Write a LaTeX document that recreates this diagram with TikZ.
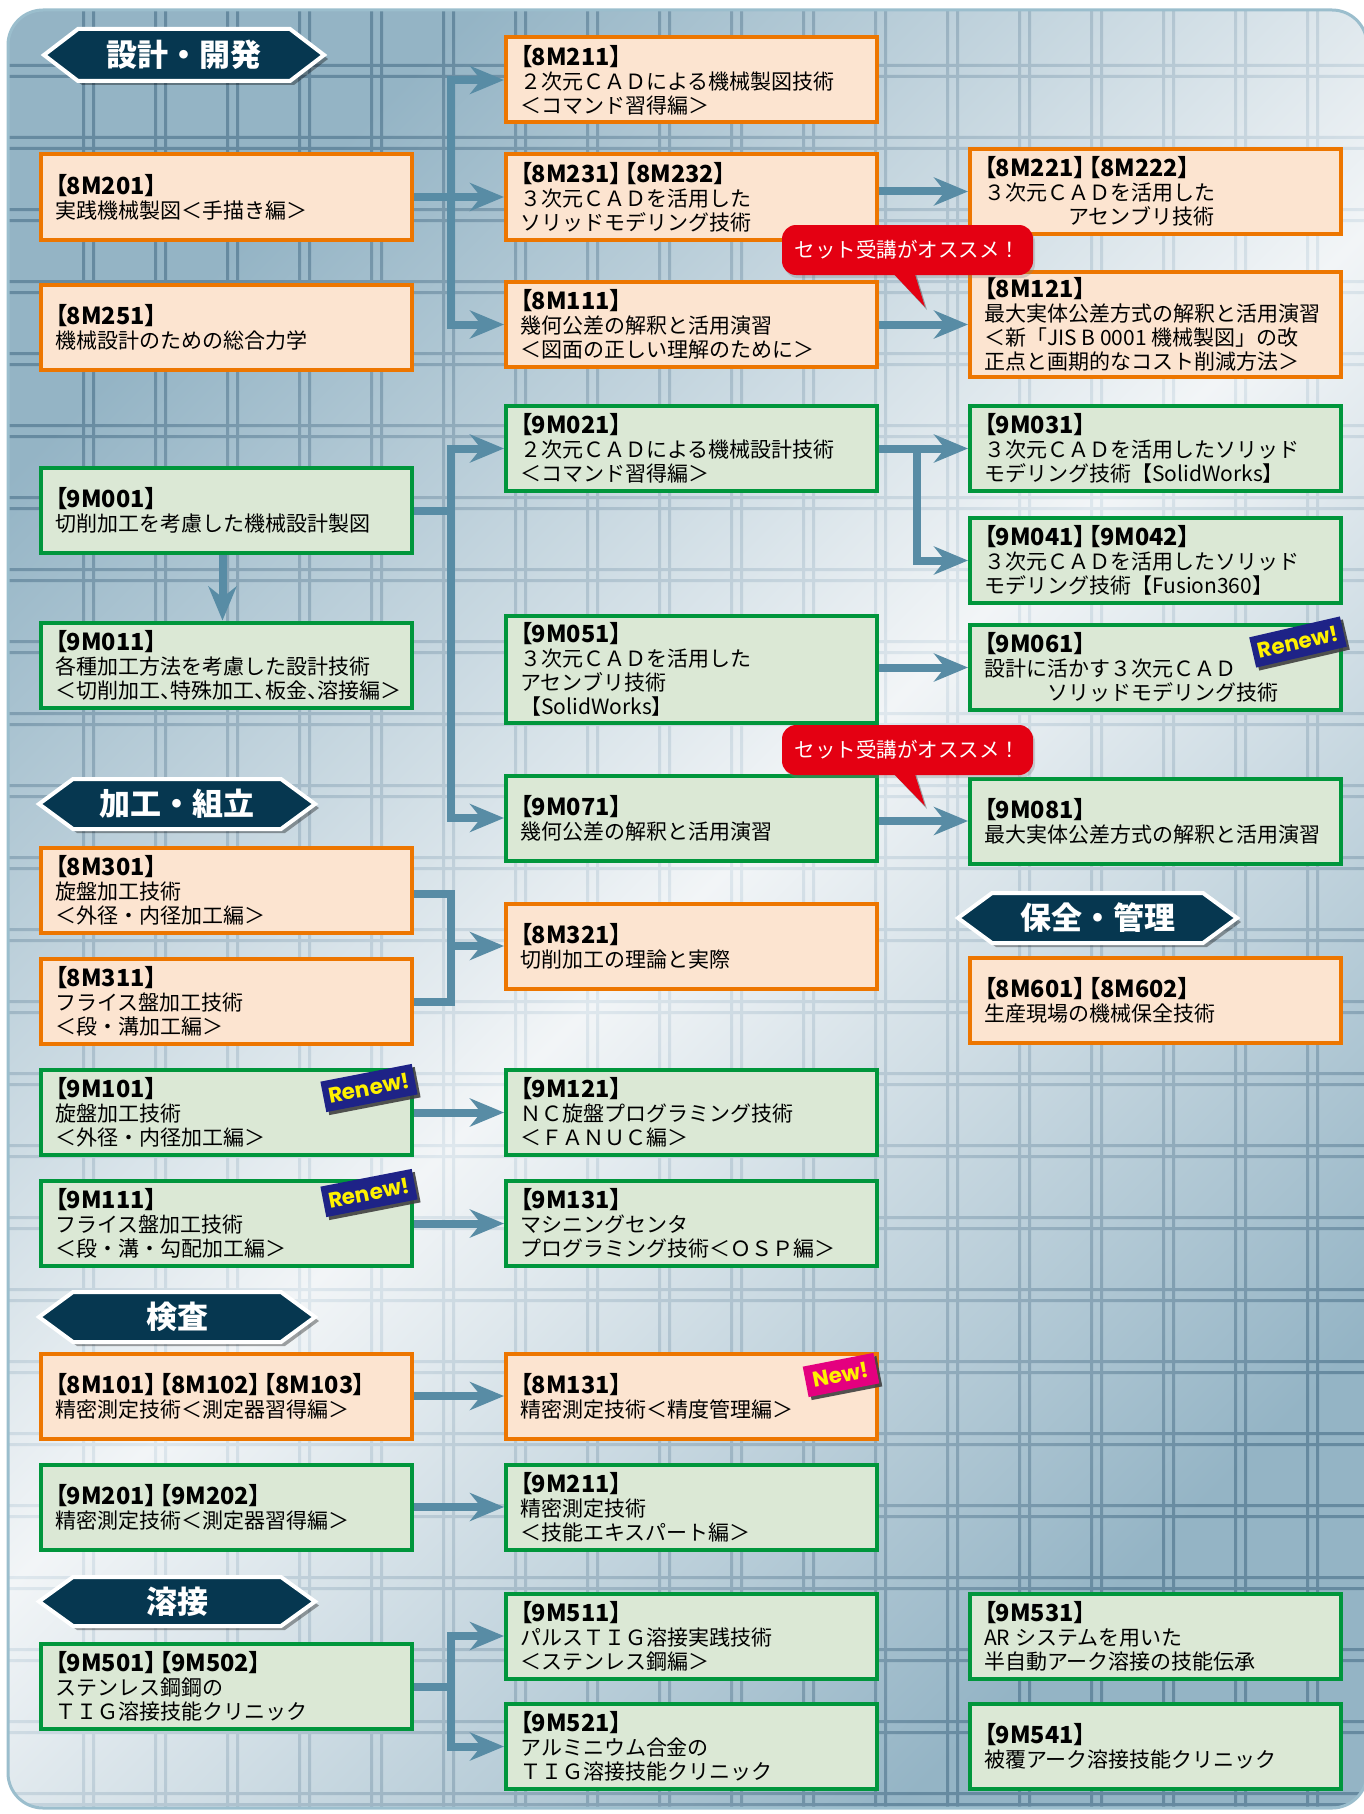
\documentclass[tikz,border=0pt]{standalone}
\usepackage{fontspec}
\newfontfamily\jp{Noto Sans CJK JP}
\newfontfamily\jpp[RawFeature=+palt]{Noto Sans CJK JP}
\newfontfamily\badgefont{Poppins}
\usetikzlibrary{arrows.meta,shadows,calc}
\pgfdeclarelayer{bg}
\pgfdeclarelayer{cn}
\pgfsetlayers{bg,cn,main}
\definecolor{obFill}{RGB}{252,228,208}
\definecolor{obDraw}{RGB}{237,118,0}
\definecolor{gbFill}{RGB}{219,232,213}
\definecolor{gbDraw}{RGB}{0,150,60}
\definecolor{connC}{RGB}{88,140,165}
\definecolor{navyH}{RGB}{6,55,80}
\definecolor{bubR}{RGB}{228,0,18}
\definecolor{badgeB}{RGB}{30,35,135}
\definecolor{badgeM}{RGB}{228,0,127}
\definecolor{badgeY}{RGB}{255,241,0}
\definecolor{bgDark}{RGB}{148,180,197}
\definecolor{bgLight}{RGB}{242,245,247}
\definecolor{grDark}{RGB}{102,138,160}
\definecolor{grLight}{RGB}{222,231,237}
\definecolor{panelEdge}{RGB}{155,190,205}
\newcommand\cde[1]{{\jpp\bfseries\fontsize{23.5}{24}\selectfont #1}}
\newcommand\hexbanner[6]{%
  \fill[black,opacity=0.35] ({#2+4},{-(#4+#5)/2-4}) -- ({#2+38},{-#4-4}) -- ({#3-30},{-#4-4}) -- ({#3+4},{-(#4+#5)/2-4}) -- ({#3-30},{-#5-4}) -- ({#2+38},{-#5-4}) -- cycle;
  \filldraw[fill=navyH, draw=white, line width=4pt, line join=miter] ({#2},{-(#4+#5)/2}) -- ({#2+34},{-#4}) -- ({#3-34},{-#4}) -- ({#3},{-(#4+#5)/2}) -- ({#3-34},{-#5}) -- ({#2+34},{-#5}) -- cycle;
  \node[hdrtxt] (#1) at ({(#2+#3)/2},{-(#4+#5)/2}) {#6};
}
\begin{document}
\begin{tikzpicture}[x=1pt,y=1pt,
  obox/.style={draw=obDraw, fill=obFill, line width=4pt, minimum width=371pt, minimum height=85pt, inner sep=0pt},
  gbox/.style={draw=gbDraw, fill=gbFill, line width=4pt, minimum width=371pt, minimum height=85pt, inner sep=0pt},
  btxt/.style={anchor=west, align=left, inner sep=0pt, font=\jp\fontsize{21}{24}\selectfont, text=black},
  ln/.style={draw=connC, line width=8pt, line cap=rect},
  arr/.style={draw=connC, line width=8pt, -{Stealth[length=34pt,width=28pt,inset=11pt]}},
  hdrtxt/.style={text=white, font=\jp\bfseries\fontsize{31}{31}\selectfont, inner sep=0pt},
  bubble/.style={fill=bubR, text=white, rounded corners=14pt, minimum width=251pt, minimum height=50pt, inner sep=0pt, font=\jp\fontsize{20.5}{22}\selectfont, drop shadow={shadow xshift=2pt, shadow yshift=-3pt, opacity=0.3}},
  badge/.style={fill=badgeB, text=badgeY, font=\badgefont\bfseries\fontsize{21.5}{22}\selectfont, minimum width=93pt, minimum height=31pt, inner sep=0pt, drop shadow={shadow xshift=3pt, shadow yshift=-3pt, fill=black!75, opacity=0.9}},
]
\useasboundingbox (0,0) rectangle (1364,-1814);

% ---------- background panel ----------
\begin{pgfonlayer}{bg}
\shade[top color=bgDark, bottom color=bgDark, middle color=bgLight, shading angle=45, rounded corners=35pt] (8,-10) rectangle (1367,-1808);
\begin{scope}
\clip[rounded corners=35pt] (8,-10) rectangle (1367,-1808);
\shade[top color=grDark, bottom color=grDark, middle color=grLight, shading angle=45]
  (8,-10) rectangle (1367,-10.5)
  (8,-1807.5) rectangle (1367,-1808)
  \foreach \k in {0,...,17} { ({82+72*\k},-10) rectangle ({85+72*\k},-1808) ({92+72*\k},-10) rectangle ({95+72*\k},-1808) }
  \foreach \k in {0,...,24} { (8,{-64-72*\k}) rectangle (1367,{-67-72*\k}) (8,{-75-72*\k}) rectangle (1367,{-78-72*\k}) };
\end{scope}
\draw[panelEdge, line width=3pt, rounded corners=35pt] (8,-10) rectangle (1367,-1808);
\end{pgfonlayer}

% ---------- banners ----------
\hexbanner{hA}{44}{324}{29}{81}{設計・開発}
\hexbanner{hB}{39}{315}{779}{829}{加工・組立}
\hexbanner{hC}{39}{315}{1292}{1342}{検査}
\hexbanner{hD}{39}{315}{1577}{1626}{溶接}
\hexbanner{hE}{958}{1237}{893}{943}{保全・管理}

% ---------- boxes ----------
% column 1
\node[obox] (b8m201) at (226.5,-197) {};
\node[btxt] (t8m201) at ([xshift=16pt]b8m201.west) {\cde{【8M201】}\\実践機械製図＜手描き編＞};
\node[obox] (b8m251) at (226.5,-327) {};
\node[btxt] (t8m251) at ([xshift=16pt]b8m251.west) {\cde{【8M251】}\\機械設計のための総合力学};
\node[gbox] (b9m001) at (226.5,-510.5) {};
\node[btxt] (t9m001) at ([xshift=16pt]b9m001.west) {\cde{【9M001】}\\切削加工を考慮した機械設計製図};
\node[gbox] (b9m011) at (226.5,-665) {};
\node[btxt] (t9m011) at ([xshift=16pt]b9m011.west) {\cde{【9M011】}\\各種加工方法を考慮した設計技術\\{\jpp ＜切削加工、特殊加工、板金、溶接編＞}};
\node[obox] (b8m301) at (226.5,-890) {};
\node[btxt] (t8m301) at ([xshift=16pt]b8m301.west) {\cde{【8M301】}\\旋盤加工技術\\＜外径・内径加工編＞};
\node[obox] (b8m311) at (226.5,-1001.5) {};
\node[btxt] (t8m311) at ([xshift=16pt]b8m311.west) {\cde{【8M311】}\\フライス盤加工技術\\＜段・溝加工編＞};
\node[gbox] (b9m101) at (226.5,-1112.5) {};
\node[btxt] (t9m101) at ([xshift=16pt]b9m101.west) {\cde{【9M101】}\\旋盤加工技術\\＜外径・内径加工編＞};
\node[gbox] (b9m111) at (226.5,-1223.5) {};
\node[btxt] (t9m111) at ([xshift=16pt]b9m111.west) {\cde{【9M111】}\\フライス盤加工技術\\＜段・溝・勾配加工編＞};
\node[obox] (b8m101) at (226.5,-1396) {};
\node[btxt] (t8m101) at ([xshift=16pt]b8m101.west) {\cde{【8M101】\hspace{3pt}【8M102】\hspace{3pt}【8M103】}\\精密測定技術＜測定器習得編＞};
\node[gbox] (b9m201) at (226.5,-1507) {};
\node[btxt] (t9m201) at ([xshift=16pt]b9m201.west) {\cde{【9M201】\hspace{3pt}【9M202】}\\精密測定技術＜測定器習得編＞};
\node[gbox] (b9m501) at (226.5,-1686.5) {};
\node[btxt] (t9m501) at ([xshift=16pt]b9m501.west) {\cde{【9M501】\hspace{3pt}【9M502】}\\ステンレス鋼鋼の\\ＴＩＧ溶接技能クリニック};

% column 2
\node[obox] (b8m211) at (691.5,-80) {};
\node[btxt] (t8m211) at ([xshift=16pt]b8m211.west) {\cde{【8M211】}\\２次元ＣＡＤによる機械製図技術\\＜コマンド習得編＞};
\node[obox] (b8m231) at (691.5,-197) {};
\node[btxt] (t8m231) at ([xshift=16pt]b8m231.west) {\cde{【8M231】\hspace{3pt}【8M232】}\\３次元ＣＡＤを活用した\\ソリッドモデリング技術};
\node[obox] (b8m111) at (691.5,-324.5) {};
\node[btxt] (t8m111) at ([xshift=16pt]b8m111.west) {\cde{【8M111】}\\幾何公差の解釈と活用演習\\＜図面の正しい理解のために＞};
\node[gbox] (b9m021) at (691.5,-448.5) {};
\node[btxt] (t9m021) at ([xshift=16pt]b9m021.west) {\cde{【9M021】}\\２次元ＣＡＤによる機械設計技術\\＜コマンド習得編＞};
\node[gbox, minimum height=107pt] (b9m051) at (691.5,-669.5) {};
\node[btxt] (t9m051) at ([xshift=16pt]b9m051.west) {\cde{【9M051】}\\３次元ＣＡＤを活用した\\アセンブリ技術\\【SolidWorks】};
\node[gbox] (b9m071) at (691.5,-818) {};
\node[btxt] (t9m071) at ([xshift=16pt]b9m071.west) {\cde{【9M071】}\\幾何公差の解釈と活用演習};
\node[obox] (b8m321) at (691.5,-946) {};
\node[btxt] (t8m321) at ([xshift=16pt]b8m321.west) {\cde{【8M321】}\\切削加工の理論と実際};
\node[gbox] (b9m121) at (691.5,-1112.5) {};
\node[btxt] (t9m121) at ([xshift=16pt]b9m121.west) {\cde{【9M121】}\\ＮＣ旋盤プログラミング技術\\＜ＦＡＮＵＣ編＞};
\node[gbox] (b9m131) at (691.5,-1223.5) {};
\node[btxt] (t9m131) at ([xshift=16pt]b9m131.west) {\cde{【9M131】}\\マシニングセンタ\\プログラミング技術＜ＯＳＰ編＞};
\node[obox] (b8m131) at (691.5,-1396) {};
\node[btxt] (t8m131) at ([xshift=16pt]b8m131.west) {\cde{【8M131】}\\精密測定技術＜精度管理編＞};
\node[gbox] (b9m211) at (691.5,-1507) {};
\node[btxt] (t9m211) at ([xshift=16pt]b9m211.west) {\cde{【9M211】}\\精密測定技術\\＜技能エキスパート編＞};
\node[gbox] (b9m511) at (691.5,-1636) {};
\node[btxt] (t9m511) at ([xshift=16pt]b9m511.west) {\cde{【9M511】}\\パルスＴＩＧ溶接実践技術\\＜ステンレス鋼編＞};
\node[gbox] (b9m521) at (691.5,-1746.5) {};
\node[btxt] (t9m521) at ([xshift=16pt]b9m521.west) {\cde{【9M521】}\\アルミニウム合金の\\ＴＩＧ溶接技能クリニック};

% column 3
\node[obox] (b8m221) at (1155.5,-191.5) {};
\node[btxt] (t8m221) at ([xshift=16pt]b8m221.west) {\cde{【8M221】\hspace{3pt}【8M222】}\\３次元ＣＡＤを活用した\\\hspace*{84pt}アセンブリ技術};
\node[obox, minimum height=105pt] (b8m121) at (1155.5,-324.5) {};
\node[btxt] (t8m121) at ([xshift=16pt]b8m121.west) {\cde{【8M121】}\\最大実体公差方式の解釈と活用演習\\＜新「JIS B 0001 機械製図」の改\\正点と画期的なコスト削減方法＞};
\node[gbox] (b9m031) at (1155.5,-448.5) {};
\node[btxt] (t9m031) at ([xshift=16pt]b9m031.west) {\cde{【9M031】}\\３次元ＣＡＤを活用したソリッド\\モデリング技術【SolidWorks】};
\node[gbox] (b9m041) at (1155.5,-560.5) {};
\node[btxt] (t9m041) at ([xshift=16pt]b9m041.west) {\cde{【9M041】\hspace{3pt}【9M042】}\\３次元ＣＡＤを活用したソリッド\\モデリング技術【Fusion360】};
\node[gbox] (b9m061) at (1155.5,-667.5) {};
\node[btxt] (t9m061) at ([xshift=16pt]b9m061.west) {\cde{【9M061】}\\設計に活かす３次元ＣＡＤ\\\hspace*{63pt}ソリッドモデリング技術};
\node[gbox] (b9m081) at (1155.5,-821) {};
\node[btxt] (t9m081) at ([xshift=16pt]b9m081.west) {\cde{【9M081】}\\最大実体公差方式の解釈と活用演習};
\node[obox] (b8m601) at (1155.5,-1000) {};
\node[btxt] (t8m601) at ([xshift=16pt]b8m601.west) {\cde{【8M601】\hspace{3pt}【8M602】}\\生産現場の機械保全技術};
\node[gbox] (b9m531) at (1155.5,-1636) {};
\node[btxt] (t9m531) at ([xshift=16pt]b9m531.west) {\cde{【9M531】}\\AR システムを用いた\\半自動アーク溶接の技能伝承};
\node[gbox] (b9m541) at (1155.5,-1746.5) {};
\node[btxt] (t9m541) at ([xshift=16pt]b9m541.west) {\cde{【9M541】}\\被覆アーク溶接技能クリニック};

% ---------- connectors ----------
\coordinate (tr1) at (451,0);
\coordinate (tr2) at (917,0);
\begin{pgfonlayer}{cn}
% design group 1
\draw[ln] (b8m211.west -| tr1) -- (b8m111.west -| tr1);
\draw[arr] (b8m201.east) -- (b8m231.west);
\draw[arr] (b8m211.west -| tr1) -- (b8m211.west);
\draw[arr] (b8m111.west -| tr1) -- (b8m111.west);
\draw[arr] (b8m231.east |- b8m221.west) -- (b8m221.west);
\draw[arr] (b8m111.east) -- (b8m121.west);
% design group 2
\draw[ln] (b9m021.west -| tr1) -- (b9m071.west -| tr1);
\draw[ln] (b9m001.east) -- (b9m001.east -| tr1);
\draw[arr] (b9m021.west -| tr1) -- (b9m021.west);
\draw[arr] (b9m071.west -| tr1) -- (b9m071.west);
\draw[arr] (b9m021.east) -- (b9m031.west);
\draw[ln] (b9m021.east -| tr2) -- (b9m041.west -| tr2);
\draw[arr] (b9m041.west -| tr2) -- (b9m041.west);
\draw[arr] ([xshift=-4pt]b9m001.south) -- ([xshift=-4pt]b9m011.north);
\draw[arr] (b9m051.east |- b9m061.west) -- (b9m061.west);
\draw[arr] (b9m071.east |- b9m081.west) -- (b9m081.west);
% machining
\draw[ln, line cap=butt, line join=miter] (b8m301.east |- 0,-894) -- (tr1 |- 0,-894) -- (tr1 |- 0,-1002) -- (b8m311.east |- 0,-1002);
\draw[arr] (tr1 |- b8m321.west) -- (b8m321.west);
\draw[arr] (b9m101.east) -- (b9m121.west);
\draw[arr] (b9m111.east) -- (b9m131.west);
% inspection
\draw[arr] (b8m101.east) -- (b8m131.west);
\draw[arr] (b9m201.east) -- (b9m211.west);
% welding
\draw[ln] (b9m511.west -| tr1) -- (b9m521.west -| tr1);
\draw[ln] (b9m501.east) -- (b9m501.east -| tr1);
\draw[arr] (b9m511.west -| tr1) -- (b9m511.west);
\draw[arr] (b9m521.west -| tr1) -- (b9m521.west);
\end{pgfonlayer}

% ---------- callouts ----------
\fill[black,opacity=0.3] (890,-270) -- (927,-310) -- (915,-270) -- cycle;
\node[bubble] (bub1) at (907.5,-250) {セット受講がオススメ！};
\fill[bubR] (888,-268) -- (925,-307) -- (913,-268) -- cycle;
\fill[black,opacity=0.3] (890,-770) -- (927,-809) -- (915,-770) -- cycle;
\node[bubble] (bub2) at (907.5,-750) {セット受講がオススメ！};
\fill[bubR] (888,-768) -- (925,-806) -- (913,-768) -- cycle;

% ---------- badges ----------
\node[badge, rotate=13] (rn1) at (1298,-642) {Renew!};
\node[badge, rotate=11] (rn2) at (369,-1088) {Renew!};
\node[badge, rotate=11] (rn3) at (369,-1193) {Renew!};
\node[badge, fill=badgeM, rotate=11, minimum width=72pt] (nw1) at (841,-1375) {New!};
\end{tikzpicture}
\end{document}
